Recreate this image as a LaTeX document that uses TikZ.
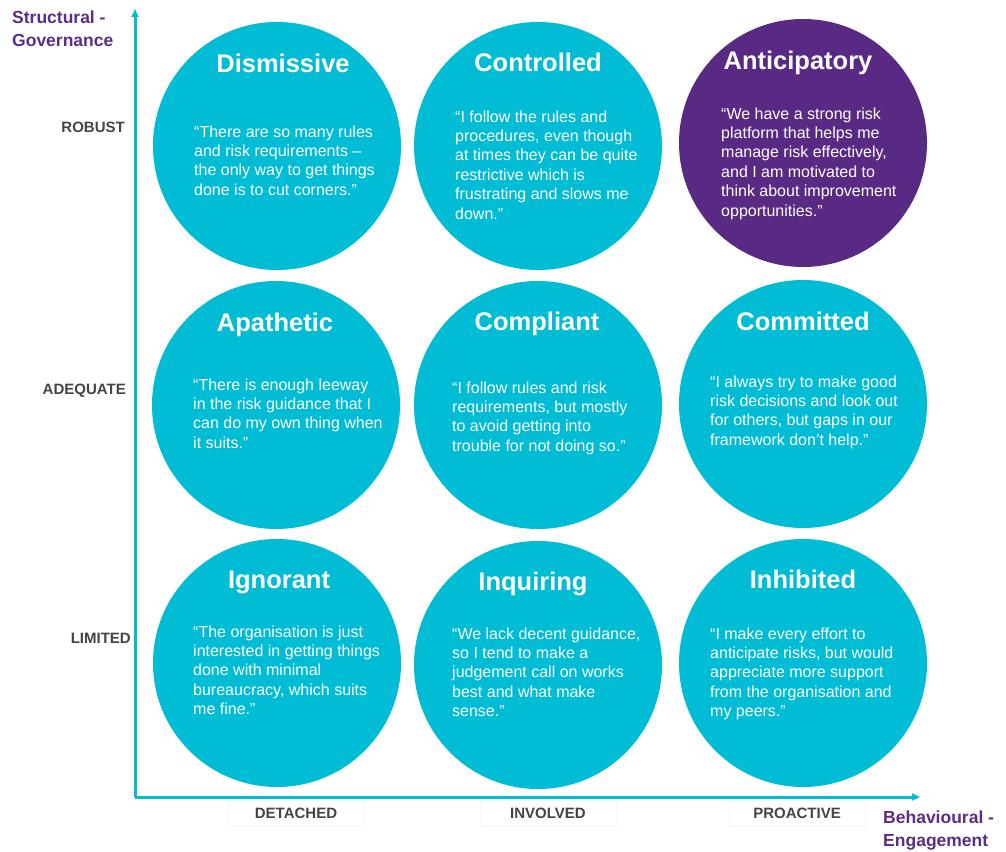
\documentclass[tikz,border=0pt]{standalone}
\usepackage{fontspec}
\setmainfont{Liberation Sans}
\usetikzlibrary{arrows.meta}
\definecolor{cyanc}{RGB}{0,188,212}
\definecolor{purc}{RGB}{88,42,132}
\definecolor{axpur}{RGB}{91,45,134}
\definecolor{labgray}{RGB}{68,68,68}
\tikzset{
  bubble/.style={circle,fill=cyanc,draw=none,minimum size=248pt,inner sep=0pt},
  pbubble/.style={bubble,fill=purc},
  ttl/.style={anchor=base,text=white,font=\fontsize{25.5}{28}\selectfont\bfseries,inner sep=0pt},
  quote/.style={anchor=base west,text=white,align=left,font=\fontsize{16}{19.4}\selectfont,inner sep=0pt},
  axis/.style={draw=cyanc,line width=3pt,-{Triangle[length=8pt,width=7pt]}},
  rowlab/.style={anchor=base east,text=labgray,font=\fontsize{15}{18}\selectfont\bfseries,inner sep=0pt},
  collab/.style={text=labgray,font=\fontsize{15}{18}\selectfont\bfseries,draw=black!4,line width=0.6pt,minimum width=136pt,minimum height=26pt,inner sep=0pt},
  axtitle/.style={anchor=base west,text=axpur,align=left,font=\fontsize{17.5}{23}\selectfont\bfseries,inner sep=0pt}
}
\begin{document}
\begin{tikzpicture}[x=1pt,y=-1pt]
\useasboundingbox (0,0) rectangle (1006,851);
% circles
\node[bubble]  (c11) at (277,146) {};
\node[bubble]  (c12) at (538,146) {};
\node[pbubble] (c13) at (803,143) {};
\node[bubble]  (c21) at (276,405) {};
\node[bubble]  (c22) at (538,405) {};
\node[bubble]  (c23) at (803,404) {};
\node[bubble]  (c31) at (277,663) {};
\node[bubble]  (c32) at (538,665) {};
\node[bubble]  (c33) at (803,663) {};
% axes
\coordinate (o) at (135,797);
\coordinate (ytip) at (135,9);
\coordinate (xtip) at (920,797);
\draw[axis] (o) -- (ytip);
\draw[axis] (o) -- (xtip);
% titles
\node[ttl] (t11) at (283,73) {Dismissive};
\node[ttl] (t12) at (538,71) {Controlled};
\node[ttl] (t13) at (798,70) {Anticipatory};
\node[ttl] (t21) at (275,331) {Apathetic};
\node[ttl] (t22) at (537,330) {Compliant};
\node[ttl] (t23) at (803,330) {Committed};
\node[ttl] (t31) at (279,588) {Ignorant};
\node[ttl] (t32) at (533,590) {Inquiring};
\node[ttl] (t33) at (803,588) {Inhibited};
% quotes (anchor = baseline of the last line)
\node[quote] (q11) at (194,195.2) {“There are so many rules\\and risk requirements –\\the only way to get things\\done is to cut corners.”};
\node[quote] (q12) at (455,219) {“I follow the rules and\\procedures, even though\\at times they can be quite\\restrictive which is\\frustrating and slows me\\down.”};
\node[quote] (q13) at (721,216) {“We have a strong risk\\platform that helps me\\manage risk effectively,\\and I am motivated to\\think about improvement\\opportunities.”};
\node[quote] (q21) at (193,448.2) {“There is enough leeway\\in the risk guidance that I\\can do my own thing when\\it suits.”};
\node[quote] (q22) at (452,451.2) {“I follow rules and risk\\requirements, but mostly\\to avoid getting into\\trouble for not doing so.”};
\node[quote] (q23) at (710,445.2) {“I always try to make good\\risk decisions and look out\\for others, but gaps in our\\framework don’t help.”};
\node[quote] (q31) at (193,714.6) {“The organisation is just\\interested in getting things\\done with minimal\\bureaucracy, which suits\\me fine.”};
\node[quote] (q32) at (452,716.6) {“We lack decent guidance,\\so I tend to make a\\judgement call on works\\best and what make\\sense.”};
\node[quote] (q33) at (710,716.6) {“I make every effort to\\anticipate risks, but would\\appreciate more support\\from the organisation and\\my peers.”};
% row labels
\node[rowlab] (r1) at (125,132) {ROBUST};
\node[rowlab] (r2) at (126,394) {ADEQUATE};
\node[rowlab] (r3) at (131,643) {LIMITED};
% column labels
\node[collab] (k1) at (296,813) {DETACHED};
\node[collab] (k2) at (548,813) {INVOLVED};
\node[collab] (k3) at (797,813) {PROACTIVE};
% axis titles (anchor = baseline of the last line)
\node[axtitle] (ay) at (12,47) {Structural -\\Governance};
\node[axtitle] (ax) at (883,846) {Behavioural -\\Engagement};
\end{tikzpicture}
\end{document}
